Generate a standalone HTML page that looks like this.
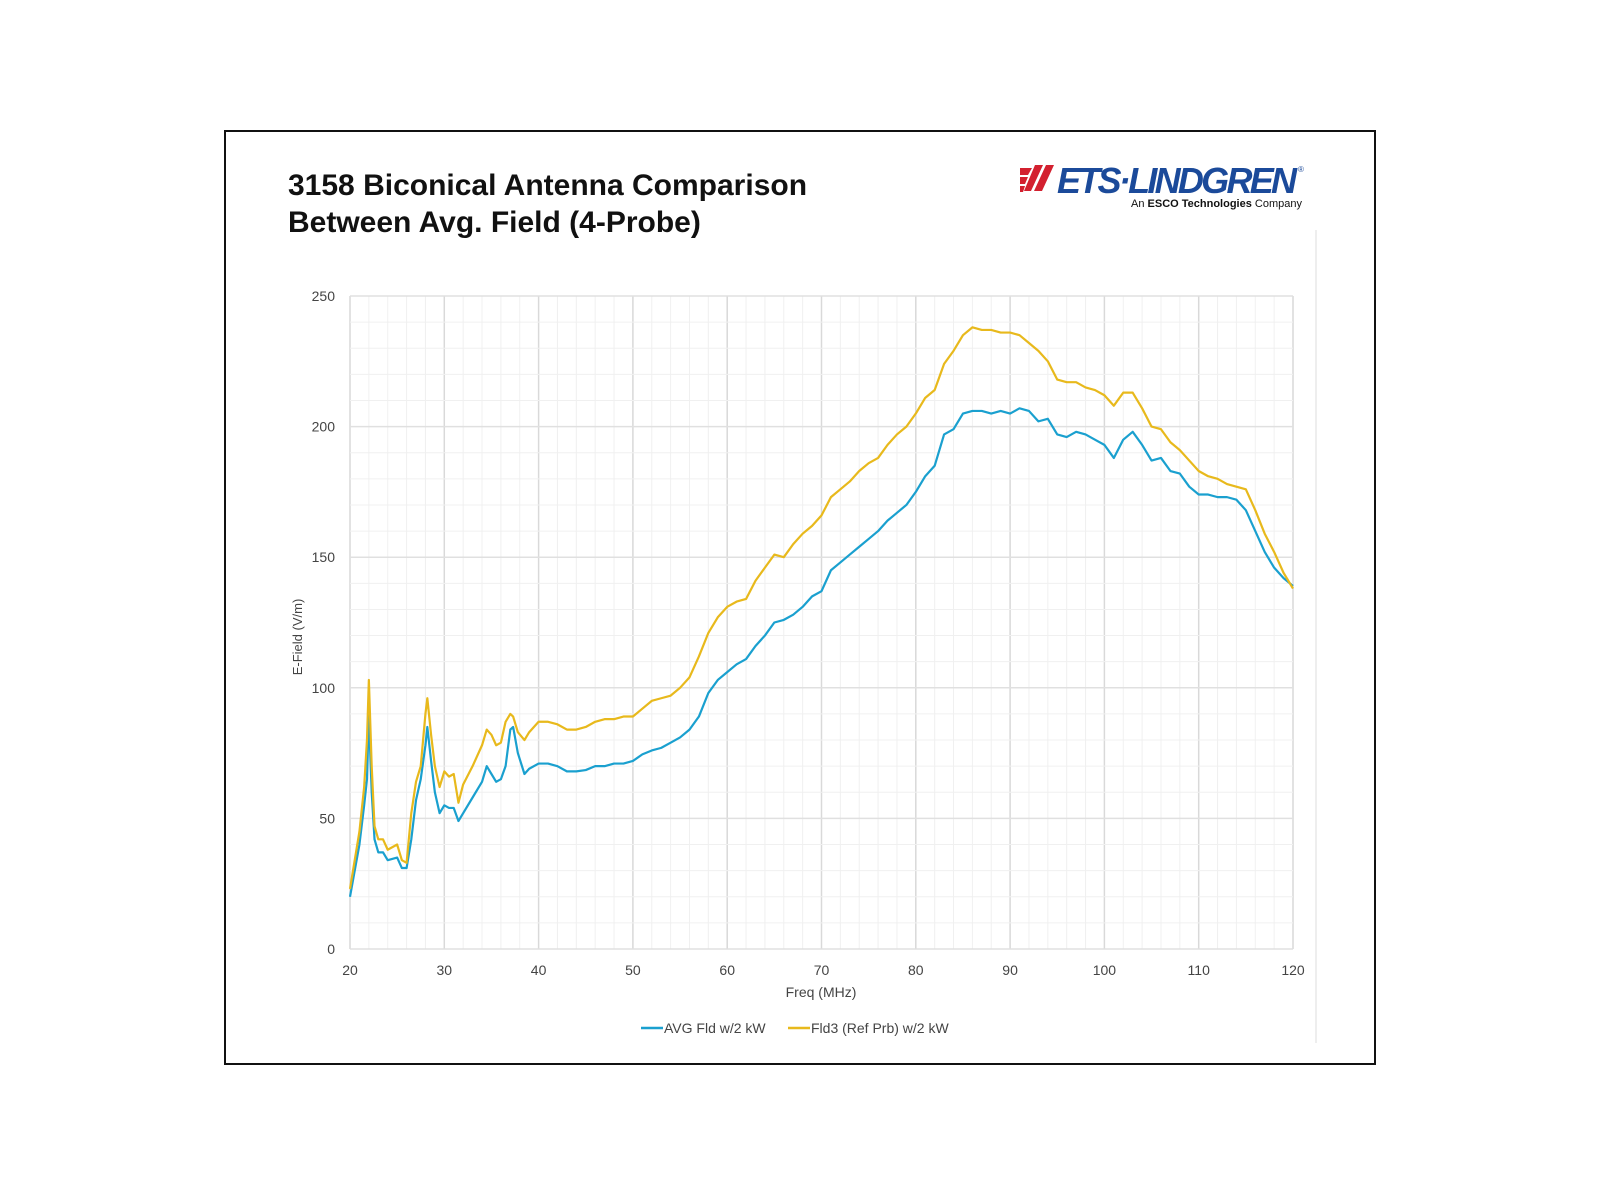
<!DOCTYPE html>
<html><head><meta charset="utf-8"><style>
body{margin:0;background:#fff;width:1600px;height:1200px;overflow:hidden;font-family:"Liberation Sans",sans-serif}
#frame{position:absolute;left:224px;top:130px;width:1148px;height:931px;border:2.5px solid #111}
.title{position:absolute;left:288px;font-weight:bold;font-size:30px;color:#111}
</style></head><body>
<div id="frame"></div>
<div class="title" style="top:169px">3158 Biconical Antenna Comparison</div>
<div class="title" style="top:206px">Between Avg. Field (4-Probe)</div>
<svg style="position:absolute;left:1015px;top:160px" width="300" height="55">
 <g fill="#d3202f">
  <path d="M5 8h12l-4 7H5z"/><path d="M5 17h8l-3 7H5z"/><path d="M5 26h5l-2 6H5z"/>
  <path d="M20 5h8l-12 26H9z" /><path d="M31 5h8l-12 26h-8z"/>
 </g>
 <text x="42" y="33" font-family="Liberation Sans" font-weight="bold" font-style="italic" font-size="36" fill="#1b4a9a" textLength="240" lengthAdjust="spacing">ETS·LINDGREN</text>
 <text x="283" y="12" font-size="8" fill="#1b4a9a">®</text>
 <text x="116" y="47" font-family="Liberation Sans" font-size="11" fill="#111">An <tspan font-weight="bold">ESCO Technologies</tspan> Company</text>
</svg>
<svg id="chart" width="1600" height="1200" style="position:absolute;left:0;top:0"></svg>
<script>
const freqs=[20,21,21.5,21.8,22,22.3,22.6,23,23.5,24,25,25.5,26,26.5,27,27.5,28,28.2,28.6,29,29.5,30,30.5,31,31.5,32,33,34,34.5,35,35.5,36,36.5,37,37.3,37.8,38.5,39,40,41,42,43,44,45,46,47,48,49,50,51,52,53,54,55,56,57,58,59,60,61,62,63,64,65,66,67,68,69,70,71,72,73,74,75,76,77,78,79,80,81,82,83,84,85,86,87,88,89,90,91,92,93,94,95,96,97,98,99,100,101,102,103,104,105,106,107,108,109,110,111,112,113,114,115,116,117,118,119,120];
const avgFld=[20,40,55,65,90,60,42,37,37,34,35,31,31,42,57,65,78,85,72,60,52,55,54,54,49,52,58,64,70,67,64,65,70,84,85,75,67,69,71,71,70,68,68,68.5,70,70,71,71,72,74.5,76,77,79,81,84,89,98,103,106,109,111,116,120,125,126,128,131,135,137,145,148,151,154,157,160,164,167,170,175,181,185,197,199,205,206,206,205,206,205,207,206,202,203,197,196,198,197,195,193,188,195,198,193,187,188,183,182,177,174,174,173,173,172,168,160,152,146,142,139];
const fld3=[23,45,62,80,103,70,47,42,42,38,40,34,33,52,64,70,90,96,82,70,62,68,66,67,56,63,70,78,84,82,78,79,87,90,89,83,80,83,87,87,86,84,84,85,87,88,88,89,89,92,95,96,97,100,104,112,121,127,131,133,134,141,146,151,150,155,159,162,166,173,176,179,183,186,188,193,197,200,205,211,214,224,229,235,238,237,237,236,236,235,232,229,225,218,217,217,215,214,212,208,213,213,207,200,199,194,191,187,183,181,180,178,177,176,168,159,152,144,138];
const xTicks=[20,30,40,50,60,70,80,90,100,110,120];
const yTicks=[0,50,100,150,200,250];
const seriesNames=["AVG Fld w/2 kW","Fld3 (Ref Prb) w/2 kW"];
const X0=350,X1=1293,Y0=949,Y1=296;
const xs=v=>X0+(v-20)/100*(X1-X0), ys=v=>Y0-v/250*(Y0-Y1);
const svg=document.getElementById('chart'),NS='http://www.w3.org/2000/svg';
function el(t,a,p){const e=document.createElementNS(NS,t);for(const k in a)e.setAttribute(k,a[k]);(p||svg).appendChild(e);return e;}
const rl=el('line',{x1:1316,y1:230,x2:1316,y2:1043,stroke:'#ddd','stroke-width':1});


for(let v=20;v<=120;v+=2){const g=el('line',{x1:xs(v),y1:Y1,x2:xs(v),y2:Y0,stroke:v%10===0?'#d9d9d9':'#f0f0f0','stroke-width':v%10===0?1.5:1});

}
for(let v=0;v<=250;v+=10){const g=el('line',{x1:X0,y1:ys(v),x2:X1,y2:ys(v),stroke:v%50===0?'#e0e0e0':'#f0f0f0','stroke-width':v%50===0?1.5:1});

}
xTicks.forEach(v=>{const t=el('text',{x:xs(v),y:975,'text-anchor':'middle','font-size':14,fill:'#444'});t.textContent=v;

});
yTicks.forEach(v=>{const t=el('text',{x:335,y:ys(v)+5,'text-anchor':'end','font-size':14,fill:'#444'});t.textContent=v;

});
const xt=el('text',{x:821,y:997,'text-anchor':'middle','font-size':14,fill:'#444'});xt.textContent='Freq (MHz)';


const yt=el('text',{x:0,y:0,'text-anchor':'middle','font-size':13,fill:'#444',transform:'translate(302,637) rotate(-90)'});yt.textContent='E-Field (V/m)';


const colors=['#1aa0cf','#e8b91c'];
[avgFld,fld3].forEach((d,i)=>{const p=el('polyline',{points:freqs.map((f,j)=>xs(f)+','+ys(d[j])).join(' '),fill:'none',stroke:colors[i],'stroke-width':2.2,'stroke-linejoin':'round'});

});
const lx=[641,788];
seriesNames.forEach((n,i)=>{const g=el('g',{});


el('line',{x1:lx[i],y1:1028,x2:lx[i]+22,y2:1028,stroke:colors[i],'stroke-width':2.5},g);
const t=el('text',{x:lx[i]+23,y:1033,'font-size':14,fill:'#444'},g);t.textContent=n;});
</script>
</body></html>
